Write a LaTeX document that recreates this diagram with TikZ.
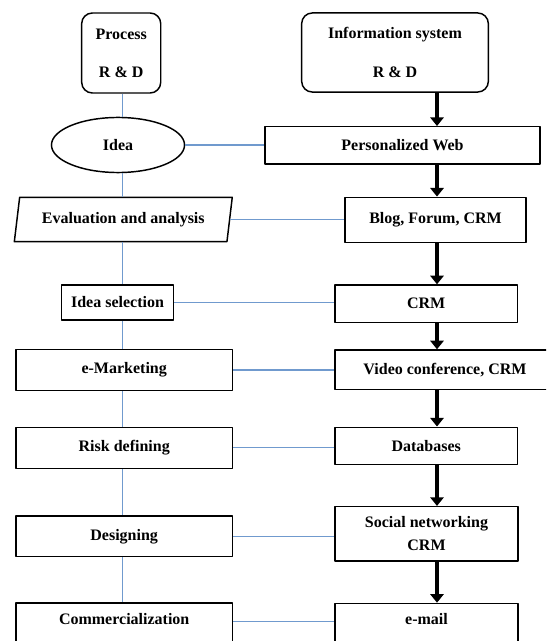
\documentclass[tikz,border=0pt]{standalone}
\usepackage{fontspec}
\setmainfont{Liberation Serif}
\usetikzlibrary{shapes.geometric,arrows.meta}
\definecolor{linkblue}{RGB}{112,154,206}
\begin{document}
\begin{tikzpicture}[x=0.75pt,y=-0.75pt,line join=round]
        \tikzset{box/.style={draw,line width=1.1pt,align=center,inner sep=0pt,
                font=\fontsize{12}{14}\selectfont\bfseries},
            rbox/.style={box,rounded corners=8pt},
            link/.style={linkblue,line width=0.8pt},
            flow/.style={line width=3pt,-{Triangle[width=10pt,length=6.5pt]}}}
        \useasboundingbox (0,0) rectangle (546,641);
        \clip (0,0) rectangle (546,641);
        % column heads
        \node[rbox,minimum width=59.3pt,minimum height=60pt] (proc) at (121.2,53) {Process\\[14.5pt]R \& D};
        \node[rbox,minimum width=140pt,minimum height=59.3pt] (info) at (395,52.5) {Information system\\[15pt]R \& D};
        % process side
        \node[box,ellipse,minimum width=99.8pt,minimum height=41.3pt] (idea) at (118,145) {Idea};
        \node[box,trapezium,trapezium left angle=74,trapezium right angle=106,trapezium stretches=true,
            minimum width=163.7pt,minimum height=33.3pt] (eval) at (123.3,219.5) {Evaluation and analysis};
        \node[box,minimum width=83.7pt,minimum height=26.3pt] (isel) at (117.5,302.5) {Idea selection};
        \node[box,minimum width=162.2pt,minimum height=31pt] (emkt) at (124.2,370) {e-Marketing};
        \node[box,minimum width=162.2pt,minimum height=30.8pt] (risk) at (124.2,447.8) {Risk defining};
        \node[box,minimum width=162.2pt,minimum height=30.5pt] (design) at (124.2,536.3) {Designing};
        \node[box,anchor=north,minimum width=162.2pt,text height=16pt,text depth=30pt] (comm) at (124.2,602.3) {Commercialization};
        % information system side
        \node[box,minimum width=206.3pt,minimum height=28.1pt] (pweb) at (402.5,145.5) {Personalized Web};
        \node[box,minimum width=135.8pt,minimum height=34pt] (blog) at (435.5,220) {Blog, Forum, CRM};
        \node[box,minimum width=136.7pt,minimum height=28pt] (crm) at (426.2,303.7) {CRM};
        \node[box,minimum width=180pt,minimum height=29.5pt] (video) at (455,369.7) {\hspace*{-15pt}Video conference, CRM};
        \node[box,minimum width=136.7pt,minimum height=27.8pt] (db) at (426.2,445.8) {Databases};
        \node[box,minimum width=137pt,minimum height=40.7pt] (social) at (426.5,533.8) {Social networking\\[3.5pt]CRM};
        \node[box,anchor=north,minimum width=137pt,text height=16pt,text depth=30pt] (email) at (426.5,602.7) {e-mail};
        \coordinate (vx) at (122.5,0);
        \coordinate (ax) at (437,0);
        % blue links
        \foreach \a/\b in {proc/idea,idea/eval,eval/isel,isel/emkt,emkt/risk,risk/design,design/comm}
        \draw[link] (\a.south -| vx)--(\b.north -| vx);
        \foreach \a/\b in {idea/pweb,eval/blog,isel/crm,emkt/video,risk/db,design/social}
        \draw[link] (\a.east)--(\a.east -| \b.west);
        \draw[link] (comm.mid east)--(comm.mid east -| email.west);
        % black arrows
        \foreach \a/\b in {info/pweb,pweb/blog,blog/crm,crm/video,video/db,db/social,social/email}
        \draw[flow] (\a.south -| ax)--(\b.north -| ax);
    \end{tikzpicture}
\end{document}
